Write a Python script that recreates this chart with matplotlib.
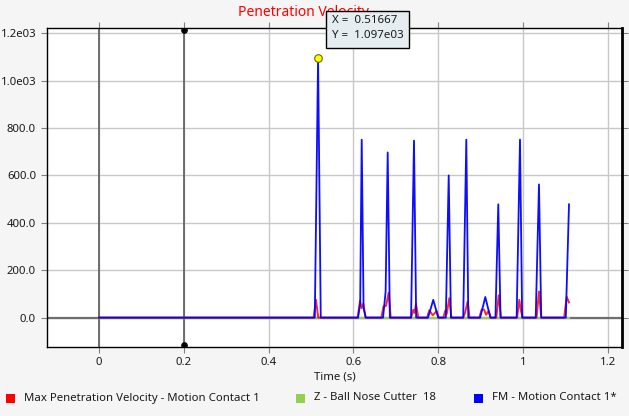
import matplotlib
matplotlib.use("Agg")
import matplotlib.pyplot as plt
from matplotlib.patches import Rectangle

W, H = 629, 416

# FM - Motion Contact 1* (blue)
fm_t = [0.0, 0.509, 0.5167, 0.523,
        0.611, 0.616, 0.6196, 0.624, 0.629,
        0.670, 0.676, 0.6809, 0.686,
        0.736, 0.7429, 0.748,
        0.776, 0.7884, 0.800,
        0.818, 0.8248, 0.830,
        0.859, 0.8663, 0.871,
        0.899, 0.9111, 0.923,
        0.935, 0.9417, 0.947,
        0.985, 0.9929, 0.998,
        1.030, 1.0377, 1.043,
        1.101, 1.1085]
fm_v = [0, 0, 1097, 0,
        0, 60, 751, 40, 0,
        0, 110, 697, 0,
        0, 747, 0,
        0, 75, 0,
        0, 600, 0,
        0, 751, 0,
        0, 87, 0,
        0, 478, 0,
        0, 751, 0,
        0, 562, 0,
        0, 478]

# Max Penetration Velocity - Motion Contact 1 (red)
mp_t = [0.0, 0.506, 0.5118, 0.517,
        0.610, 0.6156, 0.619, 0.6234, 0.629,
        0.666, 0.671, 0.677, 0.6832, 0.688,
        0.736, 0.7413, 0.744, 0.7476, 0.753,
        0.774, 0.779, 0.787, 0.7964, 0.801,
        0.812, 0.8168, 0.820, 0.8262, 0.831,
        0.859, 0.8632, 0.8695, 0.874,
        0.897, 0.9025, 0.908, 0.913, 0.919, 0.924,
        0.937, 0.9426, 0.948,
        0.986, 0.9913, 0.9945, 0.999,
        1.032, 1.0377, 1.043,
        1.097, 1.103, 1.1085]
mp_v = [0, 0, 75, 0,
        0, 71, 40, 59, 0,
        0, 47, 50, 105, 0,
        0, 33, 20, 58, 0,
        0, 31, 10, 28, 0,
        0, 30, 15, 82, 0,
        0, 20, 68, 0,
        0, 34, 34, 12, 28, 0,
        0, 94, 0,
        0, 75, 35, 0,
        0, 110, 0,
        0, 88, 64]

# Z - Ball Nose Cutter 18 (green)
z_t = [0.0, 1.1085]
z_v = [0, 0]

x_ticks = [0, 0.2, 0.4, 0.6, 0.8, 1.0, 1.2]
x_labels = ["0", "0.2", "0.4", "0.6", "0.8", "1", "1.2"]
y_ticks = [0, 200, 400, 600, 800, 1000, 1200]
y_labels = ["0.0", "200.0", "400.0", "600.0", "800.0", "1.0e03", "1.2e03"]

legend_items = [("Max Penetration Velocity - Motion Contact 1", "#ff0000", 6),
                ("Z - Ball Nose Cutter  18", "#92d050", 296),
                ("FM - Motion Contact 1*", "#0000ff", 474)]

plt.rcParams['font.family'] = ['Noto Sans', 'DejaVu Sans']


def fx(px):
    return px / W


def fy(py):
    return 1 - py / H


fig = plt.figure(figsize=(W / 100, H / 100), dpi=100, facecolor="#f5f5f5")
ax = fig.add_axes([fx(46.5), fy(347), (622.3 - 46.5) / W, (347 - 28.3) / H])
ax.set_facecolor("white")

ax.set_xlim(-0.1238, 1.2342)
ax.set_ylim(-124, 1221)

ax.set_xticks(x_ticks)
ax.set_xticklabels(x_labels)
ax.set_yticks(y_ticks)
ax.set_yticklabels(y_labels)
ax.tick_params(axis="both", direction="out", length=4.5, width=0.8,
               color="#808080", labelsize=8.2, labelcolor="#1a1a1a", pad=3)
ax.tick_params(top=True, right=True, labeltop=False, labelright=False)
ax.grid(True, color="#c8c8c8", linewidth=1.0)
ax.set_axisbelow(True)

for s in ["left", "top", "bottom"]:
    ax.spines[s].set_linewidth(1.0)
    ax.spines[s].set_color("black")
ax.spines["right"].set_linewidth(2.0)
ax.spines["right"].set_color("black")

# zero line and cursor lines
ax.axhline(0, color="#6e6e6e", linewidth=1.6, zorder=1.5)
ax.axvline(0, color="#5a5a5a", linewidth=1.2, zorder=1.5)
ax.axvline(0.2, color="#5a5a5a", linewidth=1.2, zorder=1.5)
ax.plot([0.2, 0.2], [1213, -116], "o", color="black", markersize=3.8,
        zorder=4)

ax.plot(z_t, [v - 3 for v in z_v], color="#92d050", linewidth=1.6, zorder=2)
ax.plot(mp_t, mp_v, color="#ff0000", linewidth=1.4, alpha=0.85, zorder=2.5)
ax.plot(fm_t, fm_v, color="#0000ff", linewidth=1.3, alpha=0.95, zorder=3)
ax.plot([0.51667], [1097], "o", color="#ffff00", markeredgecolor="#6a6a00",
        markersize=5.5, markeredgewidth=0.8, zorder=5)

ax.set_xlabel("Time (s)", fontsize=8.2, color="#1a1a1a", labelpad=2)

# title
fig.text(fx(304), fy(12), "Penetration Velocity", color="#ff0000",
         fontsize=10, ha="center", va="center", zorder=1)

# tooltip
fig.add_artist(Rectangle((fx(326), fy(48)), (409 - 326) / W, (48 - 11) / H,
                         transform=fig.transFigure, facecolor="#e6edf1",
                         edgecolor="black", linewidth=1.0, zorder=5))
fig.text(fx(332), fy(20.5), "X =  0.51667", fontsize=8.3, color="#1a1a1a",
         ha="left", va="center", zorder=6)
fig.text(fx(332), fy(35.5), "Y =  1.097e03", fontsize=8.3, color="#1a1a1a",
         ha="left", va="center", zorder=6)

# legend
for label, col, x0 in legend_items:
    fig.add_artist(Rectangle((fx(x0), fy(403)), 9 / W, 9 / H,
                             transform=fig.transFigure, facecolor=col,
                             edgecolor="none"))
    fig.text(fx(x0 + 18), fy(398), label, fontsize=8.2, color="#1a1a1a",
             ha="left", va="center")

fig.savefig("out.png", dpi=100, facecolor=fig.get_facecolor())
